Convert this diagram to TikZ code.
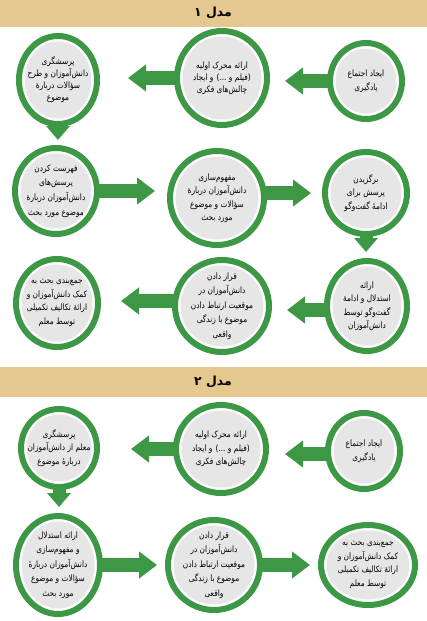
\documentclass[tikz,border=0pt]{standalone}
\usepackage{fontspec}
\newfontfamily\arabicfont[Script=Arabic]{DejaVu Sans}
\newfontfamily\arabicnarrow[Script=Arabic,FakeStretch=0.84]{DejaVu Sans}
\TeXXeTstate=1
\usetikzlibrary{shapes.geometric,arrows.meta,backgrounds,calc}
\definecolor{rgreen}{RGB}{61,152,69}
\definecolor{rtan}{RGB}{228,200,143}
\definecolor{rgray}{RGB}{230,230,230}
\newcommand\fa[1]{\beginR #1\endR}
\begin{document}
\begin{tikzpicture}[x=1pt,y=-1pt,
 circ/.style={ellipse, draw=rgreen, line width=6pt, fill=white, inner sep=0pt,
   path picture={\fill[rgray] let \p1=(path picture bounding box.north east), \p2=(path picture bounding box.center) in (\p2) ellipse ({\x1-\x2-5.5pt} and {\y1-\y2-5.5pt});}},
 txt/.style={align=center, font=\arabicnarrow\fontsize{8.8}{13.5}\selectfont, text=black, inner sep=0pt},
 tight/.style={font=\arabicnarrow\fontsize{8.8}{12}\selectfont},
 loose/.style={font=\arabicnarrow\fontsize{8.8}{14.6}\selectfont},
 hdr/.style={font=\arabicfont\bfseries\fontsize{12.5}{14}\selectfont, inner sep=0pt},
 arr/.style={draw=rgreen, line width=14pt, -{Triangle[width=26pt,length=18pt]}},
 darr/.style={draw=rgreen, line width=13pt, -{Triangle[width=23pt,length=14pt]}},
]
\useasboundingbox (0,0) rectangle (427,621);
% headers
\fill[rtan] (0,0) rectangle (427,27);
\node[hdr] (h1) at (213,13) {\fa{مدل ۱}};
\fill[rtan] (0,367) rectangle (427,397);
\node[hdr] (h2) at (213,382) {\fa{مدل ۲}};

% Model 1 circles
\node[circ, minimum width=72, minimum height=76] (A1) at (366,81) {};
\node[circ, minimum width=90, minimum height=94] (A2) at (222,78) {};
\node[circ, minimum width=78, minimum height=88] (A3) at (58,80) {};
\node[circ, minimum width=82, minimum height=86] (B1) at (56,191) {};
\node[circ, minimum width=94, minimum height=94] (B2) at (217,198) {};
\node[circ, minimum width=82, minimum height=82] (B3) at (366,193) {};
\node[circ, minimum width=80, minimum height=90] (C1) at (367,306) {};
\node[circ, minimum width=94, minimum height=92] (C2) at (222,306) {};
\node[circ, minimum width=82, minimum height=88] (C3) at (57,303) {};
% Model 2 circles
\node[circ, minimum width=72, minimum height=76] (D1) at (364,451) {};
\node[circ, minimum width=90, minimum height=88] (D2) at (221,449) {};
\node[circ, minimum width=76, minimum height=78] (D3) at (59,448) {};
\node[circ, minimum width=84, minimum height=98] (E1) at (58,565) {};
\node[circ, minimum width=92, minimum height=90] (E2) at (214,565) {};
\node[circ, minimum width=94, minimum height=80] (E3) at (368,565) {};

% texts
\node[txt] (A1t) at (A1) {\fa{ایجاد اجتماع}\\\fa{یادگیری}};
\node[txt, tight] (A2t) at (A2) {\fa{ارائه محرک اولیه}\\\fa{(فیلم و ...) و ایجاد}\\\fa{چالش‌های فکری}};
\node[txt, tight] (A3t) at (A3) {\fa{پرسشگری}\\\fa{دانش‌آموزان و طرح}\\\fa{سؤالات دربارهٔ}\\\fa{موضوع}};
\node[txt, loose] (B1t) at (B1) {\fa{فهرست کردن}\\\fa{پرسش‌های}\\\fa{دانش‌آموزان دربارهٔ}\\\fa{موضوع مورد بحث}};
\node[txt] (B2t) at (B2) {\fa{مفهوم‌سازی}\\\fa{دانش‌آموزان دربارهٔ}\\\fa{سؤالات و موضوع}\\\fa{مورد بحث}};
\node[txt] (B3t) at (B3) {\fa{برگزیدن}\\\fa{پرسش برای}\\\fa{ادامهٔ گفت‌وگو}};
\node[txt] (C1t) at (C1) {\fa{ارائه}\\\fa{استدلال و ادامهٔ}\\\fa{گفت‌وگو توسط}\\\fa{دانش‌آموزان}};
\node[txt, loose] (C2t) at (C2) {\fa{قرار دادن}\\\fa{دانش‌آموزان در}\\\fa{موقعیت ارتباط دادن}\\\fa{موضوع با زندگی}\\\fa{واقعی}};
\node[txt] (C3t) at (C3) {\fa{جمع‌بندی بحث به}\\\fa{کمک دانش‌آموزان و}\\\fa{ارائهٔ تکالیف تکمیلی}\\\fa{توسط معلم}};
\node[txt] (D1t) at (D1) {\fa{ایجاد اجتماع}\\\fa{یادگیری}};
\node[txt] (D2t) at (D2) {\fa{ارائه محرک اولیه}\\\fa{(فیلم و ...) و ایجاد}\\\fa{چالش‌های فکری}};
\node[txt] (D3t) at (D3) {\fa{پرسشگری}\\\fa{معلم از دانش‌آموزان}\\\fa{دربارهٔ موضوع}};
\node[txt, loose] (E1t) at (E1) {\fa{ارائه استدلال}\\\fa{و مفهوم‌سازی}\\\fa{دانش‌آموزان دربارهٔ}\\\fa{سؤالات و موضوع}\\\fa{مورد بحث}};
\node[txt, loose] (E2t) at (E2) {\fa{قرار دادن}\\\fa{دانش‌آموزان در}\\\fa{موقعیت ارتباط دادن}\\\fa{موضوع با زندگی}\\\fa{واقعی}};
\node[txt] (E3t) at (E3) {\fa{جمع‌بندی بحث به}\\\fa{کمک دانش‌آموزان و}\\\fa{ارائهٔ تکالیف تکمیلی}\\\fa{توسط معلم}};

% arrows behind circles
\begin{scope}[on background layer]
\draw[arr, shorten >=15pt] (A1.center) -- (A1.center -| A2.east);
\draw[arr, shorten >=28pt] (A2.center) -- (A2.center -| A3.east);
\draw[darr, shorten >=5pt] (A3.center) -- (A3.center |- B1.north);
\draw[arr, shorten >=12pt] (B1.center) -- (B1.center -| B2.west);
\draw[arr, shorten >=11pt] (B2.center |- B3.center) -- (B3.west);
\draw[darr, shorten >=6pt] (B3.center) -- (B3.center |- C1.north);
\draw[arr, shorten >=15pt] ([yshift=-4pt]C1.center) -- ([yshift=-4pt]C1.center -| C2.east);
\draw[arr, shorten >=20pt] ([yshift=5pt]C2.center) -- ([yshift=5pt]C2.center -| C3.east);
\draw[arr, shorten >=16pt] ([yshift=-3pt]D1.center) -- ([yshift=-3pt]D1.center -| D2.east);
\draw[arr, shorten >=31pt] (D2.center) -- (D2.center -| D3.east);
\draw[darr, shorten >=6pt] (D3.center) -- (D3.center |- E1.north);
\draw[arr, shorten >=8pt] (E1.center) -- (E1.center -| E2.west);
\draw[arr, shorten >=8pt] (E2.center) -- (E2.center -| E3.west);
\end{scope}
\end{tikzpicture}
\end{document}
